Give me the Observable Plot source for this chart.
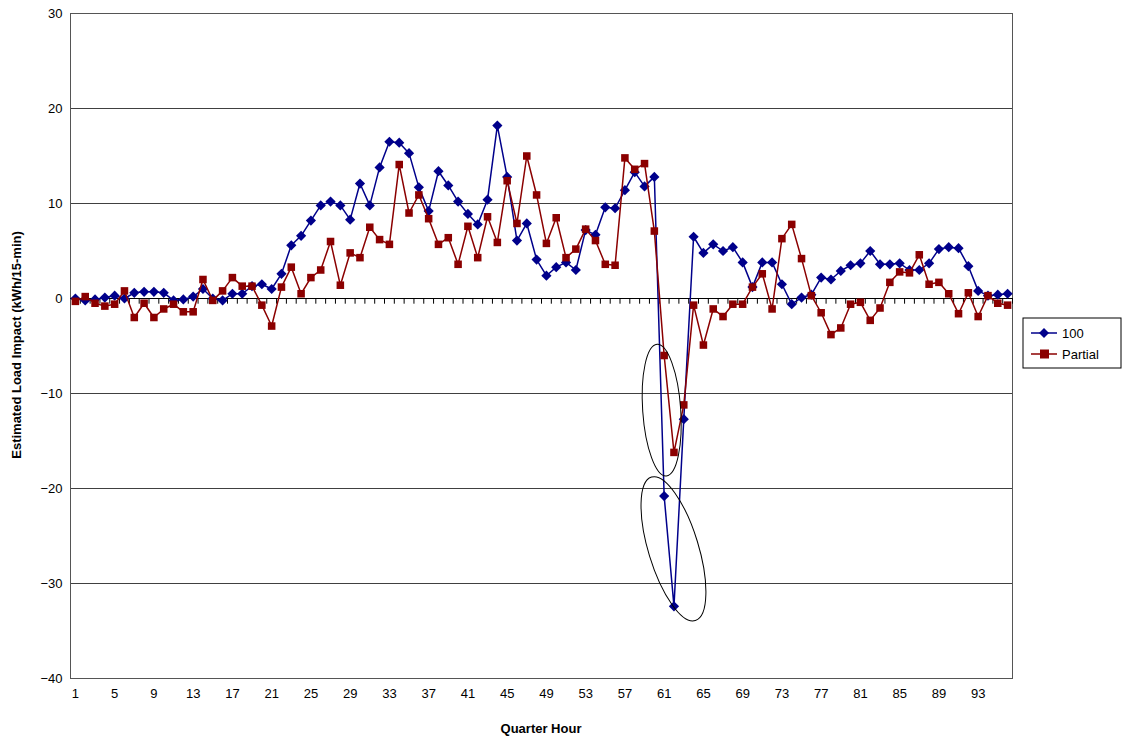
<!DOCTYPE html>
<html><head><meta charset="utf-8">
<script src="https://cdn.jsdelivr.net/npm/d3@7"></script>
<script src="https://cdn.jsdelivr.net/npm/@observablehq/plot@0.6"></script>
<style>body{margin:0;background:#fff;font-family:"Liberation Sans",Arial,sans-serif}</style>
</head><body><div id="chart"></div>
<script>
const full = [0,-0.2,-0.1,0.1,0.3,0,0.6,0.7,0.7,0.6,-0.2,-0.1,0.2,1.0,0,-0.2,0.5,0.5,1.3,1.5,1.0,2.6,5.6,6.6,8.2,9.8,10.2,9.8,8.3,12.1,9.8,13.8,16.5,16.4,15.3,11.7,9.2,13.4,11.9,10.2,8.9,7.8,10.4,18.2,12.8,6.1,7.9,4.1,2.4,3.3,3.8,3.0,7.2,6.7,9.6,9.5,11.4,13.3,11.8,12.8,-20.8,-32.4,-12.7,6.5,4.8,5.7,5.0,5.4,3.8,1.2,3.8,3.8,1.5,-0.6,0.1,0.4,2.2,2.0,2.9,3.5,3.7,5.0,3.6,3.6,3.7,3.0,3.0,3.7,5.2,5.4,5.3,3.4,0.8,0.3,0.4,0.5];
const partial = [-0.3,0.2,-0.5,-0.8,-0.6,0.8,-2.0,-0.5,-2.0,-1.1,-0.6,-1.4,-1.4,2.0,-0.2,0.8,2.2,1.3,1.3,-0.7,-2.9,1.2,3.3,0.5,2.2,3.0,6.0,1.4,4.8,4.3,7.5,6.2,5.7,14.1,9.0,10.9,8.4,5.7,6.4,3.6,7.6,4.3,8.6,5.9,12.4,7.9,15.0,10.9,5.8,8.5,4.3,5.2,7.3,6.1,3.6,3.5,14.8,13.6,14.2,7.1,-6.0,-16.2,-11.2,-0.7,-4.9,-1.1,-1.9,-0.6,-0.6,1.2,2.6,-1.1,6.3,7.8,4.2,0.3,-1.5,-3.8,-3.1,-0.6,-0.4,-2.3,-1.0,1.7,2.8,2.7,4.6,1.5,1.7,0.5,-1.6,0.6,-1.9,0.3,-0.5,-0.7];
const quarters = d3.range(1, 97);
const xTicks = d3.range(1, 97, 4);
const yTicks = d3.range(-40, 31, 10);
const seriesNames = ["100", "Partial"];
const colors = ["#00008B", "#8B0000"];

const rows = quarters.map((q, i) => ({q, full: full[i], partial: partial[i]}));

const chart = Plot.plot({
  width: 1122, height: 742,
  marginLeft: 70, marginRight: 110, marginTop: 13, marginBottom: 64,
  style: {fontFamily: "Liberation Sans, Arial, sans-serif", fontSize: "13px", color: "#000"},
  x: {domain: [0.5, 96.5], label: null},
  y: {domain: [-40, 30], label: null},
  marks: [
    Plot.gridY(yTicks, {stroke: "#000", strokeOpacity: 0.75, strokeWidth: 1}),
    Plot.frame({stroke: "#555"}),
    Plot.ruleY([0], {stroke: "#000"}),
    Plot.ruleX(quarters.map(q => q + 0.5), {x: d => d, y1: 0, y2: -0.6, stroke: "#000"}),
    Plot.line(rows, {x: "q", y: "full", stroke: colors[0], strokeWidth: 1.5}),
    Plot.dot(rows, {x: "q", y: "full", symbol: "diamond2", r: 4.6, fill: colors[0], stroke: "none"}),
    Plot.line(rows, {x: "q", y: "partial", stroke: colors[1], strokeWidth: 1.5}),
    Plot.dot(rows, {x: "q", y: "partial", symbol: "square2", r: 4.8, fill: colors[1], stroke: "none"}),
    Plot.axisX({ticks: xTicks, tickSize: 0, tickPadding: 10, label: null, fontSize: 13}),
    Plot.axisY({ticks: yTicks, tickSize: 0, tickPadding: 8, label: null, fontSize: 13})
  ]
});

const svg = d3.select(chart);
const sx = chart.scale("x"), sy = chart.scale("y");
// hand-drawn annotation ellipses
[[60.8, -11.8, 19, 66, -4], [62.0, -26.4, 25, 75, -17]].forEach(([cx, cy, rx, ry, rot]) => {
  const px = sx.apply(cx), py = sy.apply(cy);
  svg.append("ellipse").attr("cx", px).attr("cy", py).attr("rx", rx).attr("ry", ry)
    .attr("transform", `rotate(${rot},${px},${py})`)
    .attr("fill", "none").attr("stroke", "#000").attr("stroke-width", 1);
});
// axis titles
svg.append("text").attr("x", 541).attr("y", 733).attr("text-anchor", "middle")
  .attr("font-weight", "bold").attr("font-size", 13).text("Quarter Hour");
svg.append("text").attr("transform", "translate(21,345) rotate(-90)").attr("text-anchor", "middle")
  .attr("font-weight", "bold").attr("font-size", 13).text("Estimated Load Impact (kWh/15-min)");
// legend
const lg = svg.append("g").attr("transform", "translate(1023,318)");
lg.append("rect").attr("width", 98).attr("height", 50).attr("fill", "#fff").attr("stroke", "#000");
seriesNames.forEach((n, i) => {
  const y = 15 + i * 21;
  lg.append("line").attr("x1", 8).attr("x2", 34).attr("y1", y).attr("y2", y).attr("stroke", colors[i]).attr("stroke-width", 1.5);
  if (i === 0) lg.append("path").attr("d", `M21,${y-5}L26,${y}L21,${y+5}L16,${y}Z`).attr("fill", colors[i]);
  else lg.append("rect").attr("x", 17).attr("y", y - 4.5).attr("width", 9).attr("height", 9).attr("fill", colors[i]);
  lg.append("text").attr("x", 39).attr("y", y + 4.5).attr("text-anchor", "start").attr("font-size", 13).text(n);
});
d3.select("#chart").append(() => chart);
</script></body></html>
